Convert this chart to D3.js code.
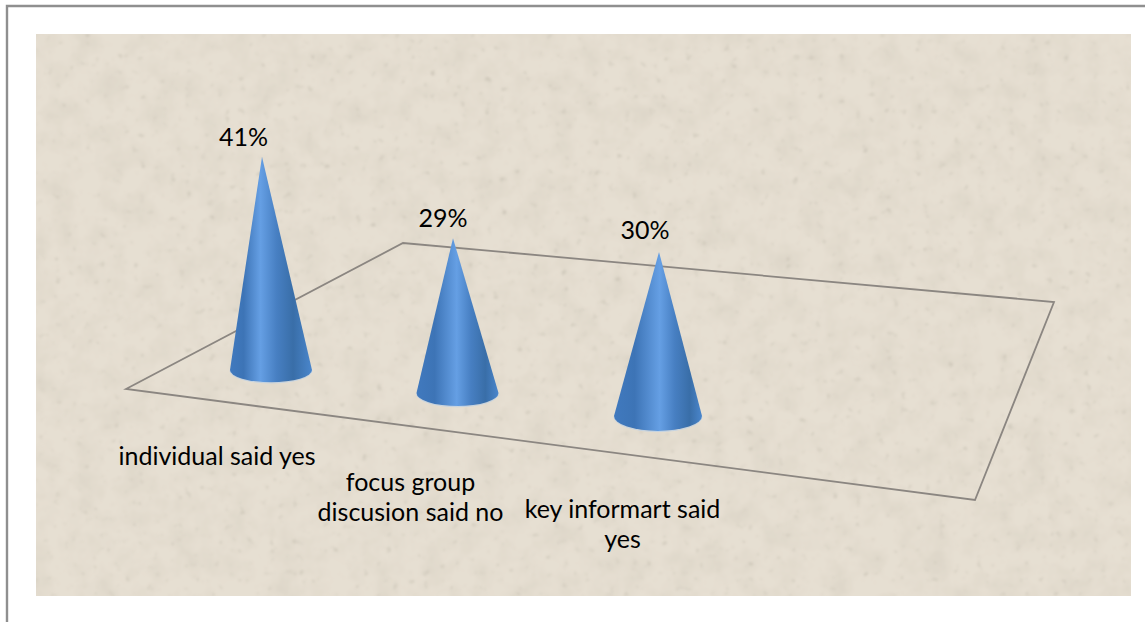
<!DOCTYPE html>
<html>
<head>
<meta charset="utf-8">
<script src="https://cdn.jsdelivr.net/npm/d3@7"></script>
<style>
html,body{margin:0;padding:0;background:#fff;overflow:hidden}
svg{display:block}
text{font-family:Lato,"Open Sans",sans-serif;fill:#000;font-size:25px}
</style>
</head>
<body>
<svg id="chart" width="1145" height="622"></svg>
<script>
const categories = ["individual said yes", "focus group discusion said no", "key informart said yes"];
const categoryLines = [["individual said yes"], ["focus group", "discusion said no"], ["key informart said", "yes"]];
const values = [41, 29, 30];
const valueLabels = ["41%", "29%", "30%"];

const svg = d3.select("#chart");
const defs = svg.append("defs");

// paper texture: soft mottling plus sparse specks
const tex = defs.append("filter").attr("id","paper").attr("x",0).attr("y",0).attr("width","100%").attr("height","100%");
tex.append("feTurbulence").attr("type","fractalNoise").attr("baseFrequency",0.04).attr("numOctaves",3).attr("seed",4).attr("result","n1");
tex.append("feColorMatrix").attr("in","n1").attr("type","matrix")
  .attr("values","0 0 0 0 0.66  0 0 0 0 0.61  0 0 0 0 0.52  0.9 0 0 0 -0.34").attr("result","mottle");
tex.append("feTurbulence").attr("type","fractalNoise").attr("baseFrequency",0.13).attr("numOctaves",2).attr("seed",11).attr("result","n2");
tex.append("feColorMatrix").attr("in","n2").attr("type","matrix")
  .attr("values","0 0 0 0 0.54  0 0 0 0 0.50  0 0 0 0 0.42  2.6 0 0 0 -1.75").attr("result","speck");
tex.append("feGaussianBlur").attr("in","speck").attr("stdDeviation",1.1).attr("result","soft");
tex.append("feMerge").selectAll("feMergeNode").data(["SourceGraphic","mottle","soft"]).enter()
  .append("feMergeNode").attr("in",d=>d);

// frame
svg.append("path").attr("d","M7 622V6H1145").attr("fill","none").attr("stroke","#8f8f8f").attr("stroke-width",2.4);

// background
svg.append("rect").attr("x",36).attr("y",34).attr("width",1095).attr("height",562)
  .attr("fill","#e6dfd2").attr("filter","url(#paper)");

// floor plane
const floorCorners = [[126,389],[403,243],[1054,302],[975,500]];
svg.append("path").attr("d",d3.line().curve(d3.curveLinearClosed)(floorCorners))
  .attr("fill","none").attr("stroke","#8b8681").attr("stroke-width",1.8);

// scales: depth index drives the perspective
const depth = [0,1,2];
const idx = d3.scaleLinear().domain(depth);
const baseX = idx.copy().range([271,457.5,658]);
const baseY = idx.copy().range([370,393,416]);
const halfW = idx.copy().range([41,41,44]);
const flat  = idx.copy().range([0.3,0.32,0.34]);
const lean  = idx.copy().range([-9,-4.5,1]);
const pxPerUnit = idx.copy().range([5.2,5.34,5.47]);
const hiOff = idx.copy().range([0.37,0.49,0.52]);
const darkOff = idx.copy().range([0.77,0.84,0.86]);

// cone shading, one gradient per cone since the highlight shifts with perspective
const grads = defs.selectAll("linearGradient").data(values).enter().append("linearGradient")
  .attr("id",(d,i)=>"cone"+i).attr("x1",0).attr("x2",1).attr("y1",0).attr("y2",0);
grads.selectAll("stop").data((d,i)=>[
  [0,"#4079be"],[hiOff(i)*0.45,"#3d74b6"],[hiOff(i),"#659fe4"],[(hiOff(i)+darkOff(i))/2,"#477fc2"],[darkOff(i),"#396ea8"],[1,"#4a86cc"]
]).enter().append("stop").attr("offset",d=>d[0]).attr("stop-color",d=>d[1]);

const cones = svg.append("g").selectAll("g").data(values).enter().append("g");
// pale rim under the base
cones.append("path")
  .attr("fill","none").attr("stroke","#c3d3e3").attr("stroke-width",1)
  .attr("d",(v,i)=>{
    const cx=baseX(i), cy=baseY(i)+0.6, r=halfW(i), ry=r*flat(i);
    return `M${cx+r} ${cy}A${r} ${ry} 0 0 1 ${cx-r} ${cy}`;
  });
cones.append("path")
  .attr("fill",(v,i)=>`url(#cone${i})`)
  .attr("d",(v,i)=>{
    const cx=baseX(i), cy=baseY(i), r=halfW(i), ry=r*flat(i);
    const ax=cx+lean(i), ay=cy-v*pxPerUnit(i);
    return `M${ax} ${ay}L${cx+r} ${cy}A${r} ${ry} 0 0 1 ${cx-r} ${cy}Z`;
  });

// value labels
const labelAnchor = [243.5,443,645];
const labelY = [146,227,239];
svg.append("g").selectAll("text").data(valueLabels).enter().append("text")
  .attr("x",(d,i)=>labelAnchor[i]).attr("y",(d,i)=>labelY[i]).attr("text-anchor","middle").text(d=>d);

// category labels
const catX = [217,410.5,622.5];
const catY = [464.5,490.5,518];
const cat = svg.append("g").selectAll("text").data(categoryLines).enter().append("text")
  .attr("text-anchor","middle");
cat.selectAll("tspan").data((d,i)=>d.map((t,j)=>({t,j,i}))).enter().append("tspan")
  .attr("x",d=>catX[d.i]).attr("y",d=>catY[d.i]+d.j*30).text(d=>d.t);
</script>
</body>
</html>
